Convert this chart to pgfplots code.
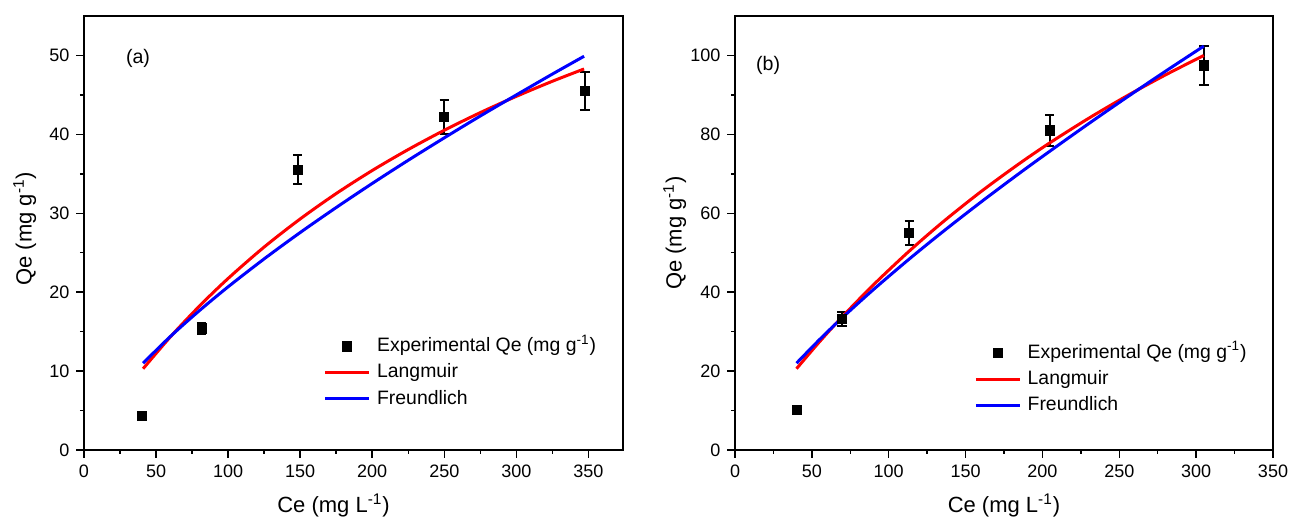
\documentclass[border=0pt]{standalone}
\usepackage{fontspec}
\setmainfont{Liberation Sans}
\usepackage{pgfplots}
\pgfplotsset{compat=1.18}
\begin{document}
\begin{tikzpicture}
\useasboundingbox (0,0) rectangle (645.5pt,259.5pt);
\pgfplotsset{
  common/.style={
    scale only axis, height=217pt,
    axis line style={line width=0.9pt, black},
    tick align=outside, xtick pos=left, ytick pos=left,
    major tick length=3.8pt, minor tick length=2pt,
    every tick/.style={line width=0.75pt, black},
    minor x tick num=1, minor y tick num=1,
    ticklabel style={font=\fontsize{9}{10}\selectfont},
    /pgf/number format/assume math mode=true,
    label style={font=\fontsize{11}{13}\selectfont},
    ylabel={Qe (mg g\textsuperscript{-1})},
    xlabel={Ce (mg L\textsuperscript{-1})},
    legend cell align=left,
    legend style={draw=none, fill=none, inner sep=0pt, anchor=north west,
      font=\fontsize{9.7}{11}\selectfont,
      nodes={inner sep=0pt, text height=7.5pt, text depth=2.2pt},
      row sep=3.4pt, column sep=3.2pt},
  },
  expt/.style={legend image code/.code={\draw[mark=square*, mark size=2.3pt, black, fill=black] plot coordinates {(11pt,0pt)};},
    only marks, mark=square*, mark size=2.3pt, black,
    error bars/.cd, y dir=both, y explicit,
    error bar style={line width=1pt, black},
    error mark options={rotate=90, mark size=2.3pt, line width=1pt, black},
  },
  fitline/.style={line width=1.5pt, smooth, no marks,
    legend image code/.code={\draw[##1] (0pt,0pt) -- (22pt,0pt);}},
}
% ---------- (a) ----------
\begin{axis}[common, at={(42pt,34.5pt)}, anchor=south west, width=269.5pt,
  xmin=0, xmax=374, ymin=0, ymax=55,
  xtick={0,50,...,350}, ytick={0,10,...,50},
  xlabel style={at={(axis description cs:0.463,-0.127)}, anchor=center},
  ylabel style={at={(axis description cs:-0.11,0.51)}, anchor=center},
  legend style={at={(0.444,0.262)}},
]
\addplot[expt]
  coordinates {(40.4,4.3) +- (0,0.4) (81.6,15.4) +- (0,0.7) (148.4,35.5) +- (0,1.85) (249.9,42.2) +- (0,2.1) (347.6,45.5) +- (0,2.35)};
\addlegendentry{Experimental Qe (mg g\textsuperscript{-1})}
\addplot[fitline, red] coordinates {(41,10.30) (60,14.35) (80,18.22) (100,21.74) (125,25.72) (150,29.28) (175,32.50) (200,35.42) (225,38.08) (250,40.52) (275,42.76) (300,44.82) (325,46.73) (347,48.29)};
\addlegendentry{Langmuir}
\addplot[fitline, blue] coordinates {(41,11.00) (60,14.40) (80,17.65) (100,20.68) (125,24.22) (150,27.56) (175,30.73) (200,33.78) (225,36.72) (250,39.56) (275,42.33) (300,45.00) (325,47.64) (347,49.90)};
\addlegendentry{Freundlich}
\node[font=\fontsize{9.8}{11}\selectfont] at (axis cs:37.5,49.6) {(a)};
\end{axis}
% ---------- (b) ----------
\begin{axis}[common, at={(367.5pt,34.5pt)}, anchor=south west, width=269pt,
  xmin=0, xmax=350, ymin=0, ymax=110,
  xtick={0,50,...,350}, ytick={0,20,...,100},
  xlabel style={at={(axis description cs:0.5,-0.127)}, anchor=center},
  ylabel style={at={(axis description cs:-0.112,0.50)}, anchor=center},
  legend style={at={(0.444,0.247)}},
]
\addplot[expt]
  coordinates {(40.3,10.1) +- (0,0.6) (69.6,33.2) +- (0,1.7) (113.3,55.0) +- (0,3.0) (204.8,81.0) +- (0,4.0) (305.1,97.5) +- (0,4.9)};
\addlegendentry{Experimental Qe (mg g\textsuperscript{-1})}
\addplot[fitline, red] coordinates {(40,20.60) (55,27.44) (70,33.86) (90,41.84) (113,50.29) (135,57.72) (160,65.48) (185,72.60) (205,77.90) (230,84.05) (255,89.76) (280,95.06) (305,100.0)};
\addlegendentry{Langmuir}
\addplot[fitline, blue] coordinates {(40,22.00) (55,27.99) (70,33.60) (90,40.64) (113,48.29) (135,55.26) (160,62.84) (185,70.13) (205,75.78) (230,82.69) (255,89.42) (280,95.98) (305,102.37)};
\addlegendentry{Freundlich}
\node[font=\fontsize{9.8}{11}\selectfont] at (axis cs:21.5,97.5) {(b)};
\end{axis}
\end{tikzpicture}
\end{document}
